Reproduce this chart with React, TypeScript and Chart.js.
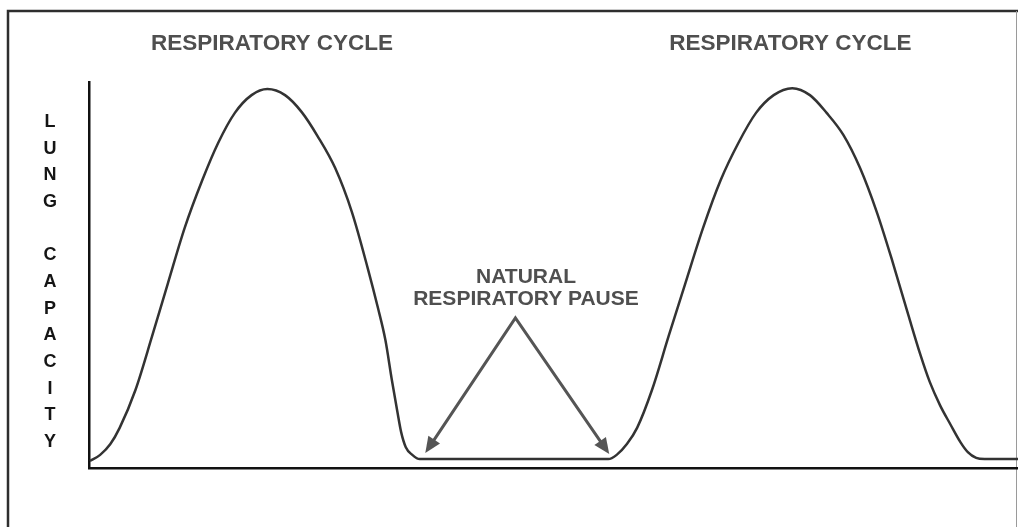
import { useEffect, useRef } from 'react';
import { Chart, registerables } from 'chart.js';

Chart.register(...registerables);

// Time (% of the record) and lung capacity (% of the axis)
const TIME = [
  0.1, 1.2, 2.3, 3.3, 5.0, 6.8, 8.5, 10.3, 12.2, 13.9, 15.7, 17.5, 19.2,
  21.1, 22.9, 24.6, 26.5, 28.3, 30.0, 31.1, 31.9, 32.6, 33.2, 33.6, 34.1, 34.8, 35.6,
  55.9, 56.8, 57.9, 59.0, 60.6, 62.4, 64.2, 66.1, 68.0, 69.9, 71.8, 73.7, 75.7,
  77.6, 79.4, 81.2, 83.0, 84.8, 86.5, 88.2, 89.5, 90.5, 91.6, 92.7, 93.8, 94.6, 95.5, 96.4, 100,
];
const CAPACITY = [
  1.8, 3.4, 6.2, 10.4, 20.2, 34.2, 47.9, 62.2, 74.6, 84.2, 92.0, 96.6, 98.2,
  96.6, 92.2, 86.0, 77.7, 66.3, 51.8, 41.5, 33.2, 22.8, 14.5, 9.3, 5.4, 3.4, 2.3,
  2.3, 3.4, 6.2, 10.4, 20.2, 34.2, 47.9, 62.2, 74.6, 84.2, 92.0, 96.6, 98.4,
  96.6, 92.0, 86.3, 77.7, 66.3, 53.4, 39.6, 29.3, 22.3, 16.3, 11.4, 6.7, 4.1, 2.6, 2.3, 2.3,
];

// Pause arrows: common apex and the two tips (time, capacity)
const ARROW_APEX = [45.9, 38.9];
const ARROW_TIPS_T = [36.2, 56.0];
const ARROW_TIPS_C = [3.9, 3.6];

const CYCLE_LABEL = 'RESPIRATORY CYCLE';
const CYCLE_LABEL_T = [19.7, 75.5];
const PAUSE_LABEL = ['NATURAL', 'RESPIRATORY PAUSE'];
const Y_LABEL = ['L', 'U', 'N', 'G', '', 'C', 'A', 'P', 'A', 'C', 'I', 'T', 'Y'];

const FONT = '"Liberation Sans", Arial, sans-serif';

const decor = {
  id: 'decor',
  beforeDraw(chart: any) {
    const ctx = chart.ctx;
    ctx.save();
    ctx.fillStyle = '#ffffff';
    ctx.fillRect(0, 0, chart.width, chart.height);
    // outer frame
    ctx.strokeStyle = '#2e2e2e';
    ctx.lineWidth = 2.5;
    ctx.beginPath();
    ctx.moveTo(8, chart.height);
    ctx.lineTo(8, 11);
    ctx.lineTo(chart.width, 11);
    ctx.stroke();
    ctx.strokeStyle = '#9a9a9a';
    ctx.lineWidth = 1;
    ctx.beginPath();
    ctx.moveTo(1016.5, 11);
    ctx.lineTo(1016.5, chart.height);
    ctx.stroke();
    ctx.restore();
  },
  afterDatasetsDraw(chart: any) {
    const ctx = chart.ctx;
    const xs = chart.scales.x;
    const ys = chart.scales.y;
    ctx.save();
    // arrows
    const ax = xs.getPixelForValue(ARROW_APEX[0]);
    const ay = ys.getPixelForValue(ARROW_APEX[1]);
    ctx.strokeStyle = '#555555';
    ctx.fillStyle = '#555555';
    ctx.lineWidth = 3;
    ctx.lineCap = 'butt';
    ctx.lineJoin = 'miter';
    const tips = ARROW_TIPS_T.map((t, i) => [xs.getPixelForValue(t), ys.getPixelForValue(ARROW_TIPS_C[i])]);
    const headLen = 16;
    const headW = 7;
    const bases = tips.map(([tx, ty]) => {
      const ang = Math.atan2(ty - ay, tx - ax);
      return [tx - (headLen - 2) * Math.cos(ang), ty - (headLen - 2) * Math.sin(ang)];
    });
    ctx.beginPath();
    ctx.moveTo(bases[0][0], bases[0][1]);
    ctx.lineTo(ax, ay);
    ctx.lineTo(bases[1][0], bases[1][1]);
    ctx.stroke();
    tips.forEach(([tx, ty]) => {
      const ang = Math.atan2(ty - ay, tx - ax);
      const bx = tx - headLen * Math.cos(ang);
      const by = ty - headLen * Math.sin(ang);
      ctx.beginPath();
      ctx.moveTo(tx, ty);
      ctx.lineTo(bx + headW * Math.sin(ang), by - headW * Math.cos(ang));
      ctx.lineTo(bx - headW * Math.sin(ang), by + headW * Math.cos(ang));
      ctx.closePath();
      ctx.fill();
    });

    // cycle labels
    ctx.fillStyle = '#4f4f4f';
    ctx.textAlign = 'center';
    ctx.textBaseline = 'middle';
    ctx.font = `bold 22.5px ${FONT}`;
    CYCLE_LABEL_T.forEach((t) => {
      ctx.fillText(CYCLE_LABEL, xs.getPixelForValue(t), 44);
    });
    // pause label
    ctx.font = `bold 21px ${FONT}`;
    PAUSE_LABEL.forEach((line, i) => {
      ctx.fillText(line, 526, 277 + i * 22);
    });
    // vertical axis label
    ctx.fillStyle = '#151515';
    ctx.font = `bold 18px ${FONT}`;
    Y_LABEL.forEach((ch, i) => {
      if (ch) ctx.fillText(ch, 50, 122 + i * 26.67);
    });
    ctx.restore();
  },
};

export default function App() {
  const ref = useRef<HTMLCanvasElement>(null);
  useEffect(() => {
    if (!ref.current) return;
    const data = TIME.map((t, i) => ({ x: t, y: CAPACITY[i] }));
    const chart = new Chart(ref.current, {
      type: 'line',
      data: {
        datasets: [
          {
            data,
            borderColor: '#333333',
            borderWidth: 2.5,
            pointRadius: 0,
            cubicInterpolationMode: 'monotone',
            fill: false,
          },
        ],
      },
      options: {
        responsive: false,
        animation: false,
        devicePixelRatio: 1,
        layout: { padding: { left: 89, top: 82, right: 0, bottom: 59 } },
        plugins: { legend: { display: false }, tooltip: { enabled: false }, title: { display: false } },
        scales: {
          x: {
            type: 'linear',
            min: 0,
            max: 100,
            grid: { display: false, drawTicks: false },
            ticks: { display: false },
            border: { display: true, color: '#111111', width: 2.5 },
          },
          y: {
            type: 'linear',
            min: 0,
            max: 100,
            grid: { display: false, drawTicks: false },
            ticks: { display: false },
            border: { display: true, color: '#111111', width: 2.5 },
          },
        },
      },
      plugins: [decor],
    });
    return () => chart.destroy();
  }, []);
  return (
    <div style={{ position: 'absolute', left: 0, top: 0, width: 1018, height: 527 }}>
      <canvas ref={ref} width={1018} height={527} />
    </div>
  );
}
